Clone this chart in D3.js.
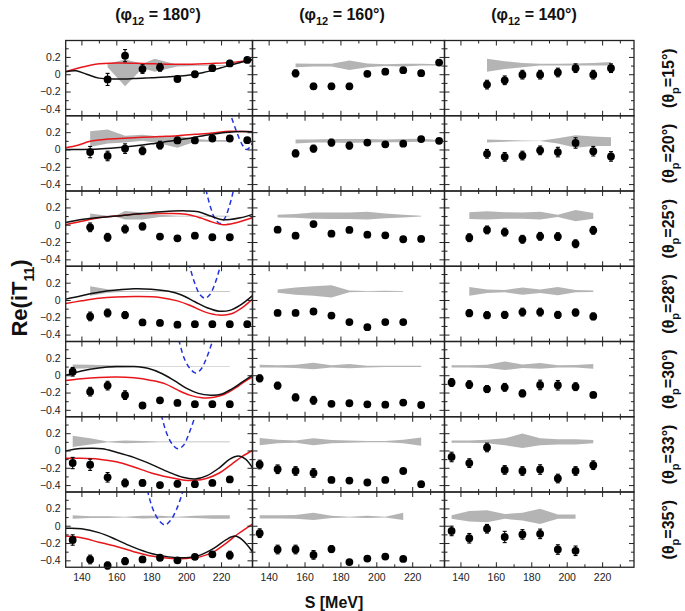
<!DOCTYPE html>
<html><head><meta charset="utf-8">
<script src="https://cdn.jsdelivr.net/npm/d3@7"></script>
<style>body{margin:0;background:#fff} svg{display:block}</style>
</head><body><svg id="c" width="685" height="611"></svg>
<script>
// ---------- labels ----------
const phiLabels = ["180", "160", "140"];
const thetaLabels = ["15", "20", "25", "28", "30", "33", "35"];
const xTicks = [140, 160, 180, 200, 220];
const xMinor = [150, 170, 190, 210, 230];
const yTicks = [-0.4, -0.2, 0, 0.2];
const yMinor = [-0.3, -0.1, 0.1, 0.3];

// ---------- phi12 = 180 (column 1) ----------
const E180 = [
 [155,165,175,185,195,205,215,225,235],
 [145,155,165,175,185,195,205,215,225,235],
 [145,155,165,175,185,195,205,215,225],
 [145,155,165,175,185,195,205,215,225,235],
 [135,145,155,165,175,185,195,205,215,225],
 [135,145,155,165,175,185,195,205,215,225],
 [135,145,155,165,175,185,195,205,215,225]];
const V180 = [
 [-0.06,0.215,0.06,0.08,-0.055,0.0,0.07,0.125,0.165],
 [-0.03,-0.075,0.01,-0.015,0.05,0.105,0.105,0.127,0.127,0.108],
 [-0.03,-0.145,-0.05,-0.02,-0.137,-0.157,-0.126,-0.145,-0.145],
 [-0.19,-0.15,-0.175,-0.26,-0.265,-0.285,-0.28,-0.28,-0.28,-0.28],
 [0.04,-0.19,-0.12,-0.23,-0.35,-0.29,-0.32,-0.335,-0.335,-0.335],
 [-0.145,-0.165,-0.31,-0.375,-0.375,-0.40,-0.385,-0.39,-0.375,-0.335],
 [-0.165,-0.39,-0.46,-0.41,-0.39,-0.37,-0.40,-0.36,-0.33,-0.34]];
const ERR180 = [
 [0.07,0.07,0.05,0.045,0.03,0.025,0.025,0.035,0.025],
 [0.065,0.055,0.055,0.045,0.045,0.035,0.025,0.025,0.025,0.025],
 [0.05,0.045,0.045,0.04,0.025,0.025,0.025,0.025,0.025],
 [0.05,0.045,0.04,0.025,0.025,0.025,0.025,0.025,0.025,0.025],
 [0.05,0.05,0.05,0.05,0.025,0.025,0.025,0.025,0.025,0.025],
 [0.065,0.065,0.055,0.045,0.035,0.03,0.035,0.025,0.025,0.025],
 [0.06,0.05,0.04,0.04,0.025,0.025,0.025,0.025,0.025,0.045]];
const BE180 = [
 [155,165,175,182,195,205,215,225],
 [145,155,165,175,185,195,205,215,225],
 [145,155,160,165,175,185,195,205,215,225],
 [145,155,165,175,185,195,205,215,225],
 [135,145,155,165,175,185,195,205,215,225],
 [135,145,155,165,175,185,195,205,215,225],
 [135,145,155,165,175,185,195,205,215,225]];
const BLO180 = [
 [0.08,-0.14,0.07,0.03,0.09,0.095,0.095,0.095],
 [0.03,0.07,0.08,0.1,0.07,0.02,0.09,0.09,0.09],
 [0.06,0.095,0.09,0.06,0.06,0.09,0.095,0.095,0.095,0.095],
 [0.05,0.085,0.095,0.095,0.095,0.095,0.095,0.095,0.095],
 [0.075,0.08,0.085,0.09,0.095,0.097,0.097,0.097,0.097,0.097],
 [0.04,0.07,0.095,0.085,0.09,0.095,0.095,0.095,0.095,0.095],
 [0.08,0.09,0.09,0.095,0.085,0.09,0.095,0.09,0.08,0.08]];
const BHI180 = [
 [0.12,0.17,0.12,0.18,0.11,0.105,0.105,0.105],
 [0.21,0.23,0.16,0.17,0.15,0.16,0.12,0.11,0.11],
 [0.13,0.105,0.11,0.16,0.14,0.115,0.105,0.105,0.105,0.105],
 [0.16,0.125,0.105,0.105,0.105,0.105,0.105,0.105,0.105],
 [0.125,0.12,0.115,0.11,0.105,0.103,0.103,0.103,0.103,0.103],
 [0.17,0.14,0.105,0.115,0.11,0.105,0.105,0.105,0.105,0.105],
 [0.12,0.11,0.11,0.105,0.115,0.115,0.105,0.115,0.12,0.12]];
const BLACK180 = [
 [[131,0.03],[137,0.04],[143,0.0],[150,-0.045],[160,-0.055],[170,-0.05],[180,-0.04],[190,-0.03],[200,-0.015],[210,0.02],[220,0.075],[230,0.13],[238,0.17]],
 [[131,0.0],[140,0.0],[150,0.005],[160,0.02],[170,0.04],[180,0.065],[190,0.095],[200,0.125],[210,0.16],[220,0.19],[228,0.205],[238,0.205]],
 [[131,0.025],[140,0.06],[150,0.085],[160,0.1],[170,0.12],[180,0.14],[190,0.155],[200,0.16],[207,0.15],[214,0.1],[220,0.06],[225,0.06],[231,0.08],[238,0.12]],
 [[131,0.01],[140,0.05],[150,0.09],[160,0.115],[170,0.13],[180,0.125],[190,0.1],[197,0.06],[205,-0.02],[212,-0.09],[219,-0.13],[225,-0.12],[231,-0.06],[238,0.05]],
 [[131,0.0],[140,0.05],[150,0.085],[160,0.1],[170,0.1],[178,0.08],[186,0.02],[193,-0.06],[200,-0.15],[207,-0.21],[214,-0.23],[220,-0.22],[226,-0.16],[232,-0.08],[238,0.0]],
 [[131,-0.005],[138,0.02],[145,0.025],[152,0.02],[160,-0.02],[170,-0.08],[180,-0.16],[190,-0.25],[198,-0.31],[205,-0.33],[212,-0.29],[219,-0.2],[225,-0.1],[230,-0.065],[234,-0.1],[238,-0.2]],
 [[131,-0.03],[140,-0.035],[150,-0.08],[160,-0.16],[170,-0.25],[180,-0.32],[190,-0.36],[200,-0.37],[208,-0.34],[216,-0.26],[223,-0.16],[228,-0.12],[232,-0.16],[238,-0.3]]];
const RED180 = [
 [[131,0.03],[140,0.08],[148,0.115],[160,0.13],[175,0.125],[190,0.115],[200,0.115],[215,0.125],[228,0.14],[238,0.165]],
 [[131,0.02],[138,0.05],[145,0.095],[155,0.12],[165,0.13],[175,0.14],[185,0.15],[195,0.16],[205,0.175],[215,0.19],[225,0.21],[238,0.205]],
 [[131,0.0],[140,0.04],[150,0.08],[160,0.1],[170,0.12],[180,0.13],[190,0.13],[200,0.12],[208,0.08],[215,0.03],[221,0.0],[228,0.02],[238,0.08]],
 [[131,-0.04],[140,-0.01],[150,0.02],[160,0.035],[172,0.04],[185,0.03],[195,-0.01],[203,-0.07],[211,-0.14],[219,-0.175],[226,-0.16],[232,-0.09],[238,0.01]],
 [[131,-0.06],[140,-0.04],[150,-0.025],[160,-0.02],[170,-0.03],[180,-0.06],[188,-0.1],[195,-0.17],[202,-0.23],[209,-0.26],[216,-0.255],[222,-0.22],[228,-0.15],[233,-0.08],[238,-0.02]],
 [[131,-0.09],[140,-0.09],[150,-0.1],[160,-0.13],[170,-0.19],[180,-0.26],[190,-0.31],[198,-0.34],[205,-0.345],[212,-0.32],[219,-0.26],[226,-0.16],[232,-0.07],[238,0.0]],
 [[131,-0.12],[140,-0.14],[150,-0.19],[160,-0.24],[170,-0.3],[180,-0.35],[190,-0.375],[200,-0.38],[208,-0.36],[216,-0.3],[223,-0.2],[230,-0.09],[238,0.02]]];
const BLUE180 = [
 [],
 [[223,0.55],[226,0.37],[229,0.2],[232,0.06],[234.5,0.0],[237,0.04],[240,0.2]],
 [[209,0.6],[211.5,0.39],[214,0.2],[216.5,0.07],[219.3,0.015],[222,0.07],[224.5,0.2],[227,0.39],[229,0.6]],
 [[199,0.62],[202,0.39],[205,0.19],[208,0.06],[210.7,0.02],[213.5,0.06],[216.5,0.19],[219.5,0.39],[222,0.62]],
 [[193,0.6],[196,0.39],[199,0.19],[202.5,0.07],[205.5,0.025],[208.5,0.07],[211.5,0.19],[215,0.39],[218,0.6]],
 [[183,0.6],[186,0.39],[189,0.19],[192.5,0.06],[195.4,0.02],[198.5,0.06],[201.5,0.19],[205,0.39],[208,0.6]],
 [[175,0.6],[178,0.39],[181,0.19],[184.5,0.06],[187.8,0.01],[191,0.06],[194.5,0.19],[198,0.39],[201,0.6]]];

// ---------- phi12 = 160 (column 2) ----------
const E160 = [
 [155,165,175,185,195,205,215,225,235],
 [155,165,175,185,195,205,215,225,235],
 [145,155,165,175,185,195,205,215,225],
 [145,155,165,175,185,195,205,215],
 [135,145,155,165,175,185,195,205,215,225],
 [135,145,155,165,175,185,195,205,215,225],
 [135,145,155,165,175,185,195,205,215]];
const V160 = [
 [0.01,-0.14,-0.14,-0.14,0.005,0.03,0.047,0.012,0.135],
 [-0.045,0.01,0.08,0.045,0.08,0.06,0.067,0.12,0.10],
 [-0.057,-0.126,0.008,-0.103,-0.06,-0.115,-0.122,-0.168,-0.164],
 [-0.15,-0.15,-0.133,-0.18,-0.255,-0.314,-0.255,-0.255],
 [-0.036,-0.12,-0.256,-0.29,-0.33,-0.324,-0.336,-0.34,-0.316,-0.344],
 [-0.162,-0.217,-0.237,-0.26,-0.34,-0.348,-0.37,-0.34,-0.237,-0.39],
 [-0.086,-0.275,-0.275,-0.337,-0.27,-0.42,-0.38,-0.357,-0.384]];
const ERR160 = [
 [0.04,0.035,0.035,0.035,0.025,0.025,0.025,0.025,0.025],
 [0.04,0.04,0.04,0.04,0.025,0.025,0.025,0.025,0.025],
 [0.03,0.03,0.03,0.03,0.025,0.025,0.025,0.025,0.025],
 [0.025,0.025,0.03,0.025,0.025,0.025,0.025,0.025],
 [0.04,0.04,0.04,0.045,0.025,0.025,0.025,0.025,0.025,0.025],
 [0.05,0.05,0.05,0.05,0.025,0.025,0.025,0.025,0.025,0.025],
 [0.05,0.05,0.05,0.05,0.04,0.025,0.025,0.025,0.025]];
const BE160 = [
 [155,165,175,185,195,205,215,225,235],
 [155,165,175,185,195,205,215,225,235],
 [145,155,165,175,185,195,205,215,225],
 [145,155,165,175,185,195,205,215],
 [135,145,155,165,175,185,195,205,215,225],
 [135,145,155,165,175,185,195,205,215,225],
 [135,145,155,165,175,185,195,205,215]];
const BLO160 = [
 [0.08,0.09,0.09,0.05,0.08,0.095,0.09,0.1,0.1],
 [0.07,0.08,0.08,0.075,0.08,0.085,0.085,0.09,0.09],
 [0.085,0.08,0.07,0.065,0.065,0.06,0.075,0.085,0.095],
 [0.085,0.06,0.05,0.03,0.09,0.095,0.093,0.095],
 [0.09,0.09,0.085,0.07,0.09,0.08,0.09,0.095,0.095,0.095],
 [0.06,0.085,0.09,0.06,0.085,0.09,0.095,0.095,0.085,0.055],
 [0.085,0.085,0.08,0.065,0.09,0.095,0.09,0.095,0.065]];
const BHI160 = [
 [0.125,0.12,0.12,0.16,0.125,0.115,0.12,0.12,0.115],
 [0.115,0.115,0.12,0.12,0.12,0.115,0.12,0.125,0.11],
 [0.115,0.125,0.14,0.14,0.14,0.15,0.13,0.115,0.105],
 [0.12,0.145,0.16,0.17,0.11,0.105,0.108,0.105],
 [0.12,0.115,0.12,0.145,0.115,0.13,0.11,0.11,0.11,0.11],
 [0.145,0.125,0.115,0.14,0.12,0.115,0.11,0.11,0.125,0.15],
 [0.12,0.12,0.125,0.15,0.115,0.105,0.115,0.105,0.15]];

// ---------- phi12 = 140 (column 3) ----------
const E140 = [
 [155,165,175,185,195,205,215,225],
 [155,165,175,185,195,205,215,225],
 [145,155,165,175,185,195,205,215],
 [145,155,165,175,185,195,205,215],
 [135,145,155,165,175,185,195,205,215],
 [135,145,155,165,175,185,195,205,215],
 [135,145,155,165,175,185,195,205]];
const V140 = [
 [-0.12,-0.07,-0.005,-0.005,0.02,0.07,-0.005,0.07],
 [-0.05,-0.085,-0.07,-0.01,-0.03,0.075,-0.02,-0.08],
 [-0.15,-0.06,-0.085,-0.168,-0.134,-0.137,-0.22,-0.065],
 [-0.153,-0.176,-0.172,-0.14,-0.14,-0.172,-0.145,-0.19],
 [-0.084,-0.108,-0.16,-0.14,-0.21,-0.112,-0.116,-0.132,-0.228],
 [-0.075,-0.146,0.035,-0.225,-0.237,-0.22,-0.324,-0.237,-0.17],
 [-0.06,-0.145,-0.035,-0.13,-0.1,-0.094,-0.275,-0.29]];
const ERR140 = [
 [0.05,0.05,0.05,0.05,0.05,0.05,0.05,0.05],
 [0.05,0.05,0.05,0.05,0.055,0.06,0.055,0.055],
 [0.045,0.045,0.045,0.045,0.045,0.045,0.045,0.045],
 [0.04,0.04,0.04,0.045,0.045,0.04,0.04,0.04],
 [0.045,0.045,0.04,0.045,0.04,0.055,0.055,0.045,0.03],
 [0.055,0.05,0.05,0.05,0.05,0.055,0.05,0.05,0.05],
 [0.055,0.055,0.05,0.065,0.055,0.055,0.055,0.055]];
const BE140 = [
 [155,165,175,185,195,205,215,225],
 [155,165,175,185,195,205,215,225],
 [145,155,165,175,185,195,205,215],
 [145,155,165,175,185,195,205,215],
 [135,145,155,165,175,185,195,205,215],
 [135,145,155,165,175,185,195,205,215],
 [135,145,155,165,175,185,195,205]];
const BLO140 = [
 [0.03,0.06,0.08,0.1,0.1,0.1,0.1,0.1],
 [0.08,0.09,0.095,0.098,0.07,0.02,0.04,0.04],
 [0.065,0.06,0.07,0.07,0.06,0.09,0.04,0.07],
 [0.05,0.08,0.09,0.06,0.08,0.055,0.09,0.093],
 [0.09,0.09,0.085,0.06,0.085,0.075,0.09,0.09,0.075],
 [0.09,0.09,0.085,0.06,0.03,0.06,0.07,0.07,0.085],
 [0.08,0.05,0.04,0.08,0.06,0.02,0.08,0.08]];
const BHI140 = [
 [0.18,0.15,0.13,0.12,0.12,0.125,0.13,0.14],
 [0.115,0.11,0.105,0.102,0.13,0.165,0.15,0.14],
 [0.145,0.155,0.145,0.14,0.15,0.115,0.17,0.135],
 [0.15,0.12,0.115,0.145,0.12,0.15,0.115,0.11],
 [0.115,0.115,0.12,0.16,0.125,0.14,0.115,0.118,0.13],
 [0.115,0.115,0.125,0.14,0.195,0.14,0.13,0.13,0.12],
 [0.12,0.17,0.18,0.135,0.15,0.195,0.13,0.13]];

// ---------- drawing ----------
const FONT = "'Liberation Sans', Arial, Helvetica, sans-serif";
const svg = d3.select("#c").style("font-family", FONT);
const colBounds = [65.7, 252.5, 444.5, 634];
const gridTop = 40.5, rowH = 75.25;
const xDom = [131, 238], yDom = [-0.48, 0.39];
const BAND = "#b4b4b4", RED = "#e8161b", BLUE = "#2233e0";

const cols = [
  {E:E180, V:V180, err:ERR180, BE:BE180, BLO:BLO180, BHI:BHI180, black:BLACK180, red:RED180, blue:BLUE180},
  {E:E160, V:V160, err:ERR160, BE:BE160, BLO:BLO160, BHI:BHI160},
  {E:E140, V:V140, err:ERR140, BE:BE140, BLO:BLO140, BHI:BHI140}
];
const defs = svg.append("defs");

cols.forEach((c, ci) => {
  const x0 = colBounds[ci], x1 = colBounds[ci + 1];
  const x = d3.scaleLinear().domain(xDom).range([x0, x1]);
  for (let r = 0; r < 7; r++) {
    const y0 = gridTop + r * rowH, y1 = y0 + rowH;
    const y = d3.scaleLinear().domain(yDom).range([y1, y0]);
    const id = `clip${ci}_${r}`;
    defs.append("clipPath").attr("id", id).append("rect")
      .attr("x", x0).attr("y", y0).attr("width", x1 - x0).attr("height", rowH);
    const g = svg.append("g");
    const gc = g.append("g").attr("clip-path", `url(#${id})`);

    // band
    const band = c.BE[r].map((e, i) => ({e, lo: c.BLO[r][i], hi: c.BHI[r][i]}));
    gc.append("path").datum(band)
      .attr("d", d3.area().x(d => x(d.e)).y0(d => y(d.lo)).y1(d => y(d.hi)))
      .attr("fill", BAND);

    // theory curves
    const line = d3.line().x(d => x(d[0])).y(d => y(d[1])).curve(d3.curveCatmullRom);
    if (c.blue && c.blue[r].length) {
      gc.append("path").datum(c.blue[r]).attr("d", line).attr("fill", "none")
        .attr("stroke", BLUE).attr("stroke-width", 1.5).attr("stroke-dasharray", "5,3.5");
    }
    if (c.red) {
      gc.append("path").datum(c.red[r]).attr("d", line).attr("fill", "none")
        .attr("stroke", RED).attr("stroke-width", 1.5);
    }
    if (c.black) {
      gc.append("path").datum(c.black[r]).attr("d", line).attr("fill", "none")
        .attr("stroke", "#111").attr("stroke-width", 1.5);
    }

    // data with error bars
    const pts = c.E[r].map((e, i) => ({e, v: c.V[r][i], s: c.err[r][i]}));
    const pg = g.selectAll("g.pt").data(pts).enter().append("g").attr("class", "pt");
    pg.append("line").attr("x1", d => x(d.e)).attr("x2", d => x(d.e))
      .attr("y1", d => y(d.v - d.s)).attr("y2", d => y(d.v + d.s))
      .attr("stroke", "#000").attr("stroke-width", 1.1);
    pg.append("line").attr("x1", d => x(d.e) - 2).attr("x2", d => x(d.e) + 2)
      .attr("y1", d => y(d.v + d.s)).attr("y2", d => y(d.v + d.s))
      .attr("stroke", "#000").attr("stroke-width", 1.1);
    pg.append("line").attr("x1", d => x(d.e) - 2).attr("x2", d => x(d.e) + 2)
      .attr("y1", d => y(d.v - d.s)).attr("y2", d => y(d.v - d.s))
      .attr("stroke", "#000").attr("stroke-width", 1.1);
    pg.append("circle").attr("cx", d => x(d.e)).attr("cy", d => y(d.v)).attr("r", 3.9).attr("fill", "#000");

    // axes (inward ticks)
    const fmtY = d => d === 0 ? "0" : d3.format(".1f")(d);
    const clean = sel => { sel.select(".domain").remove(); sel.selectAll("line").attr("stroke", "#222"); sel.selectAll("text").style("font-family", FONT); };
    g.append("g").attr("transform", `translate(0,${y1})`)
      .call(d3.axisBottom(x).tickValues(xTicks).tickSize(-5).tickPadding(6).tickFormat(r === 6 ? d3.format("d") : ""))
      .call(clean).call(s => s.selectAll("text").attr("font-size", 10.5).attr("fill", "#222"));
    g.append("g").attr("transform", `translate(0,${y1})`)
      .call(d3.axisBottom(x).tickValues(xMinor).tickSize(-3).tickFormat("")).call(clean);
    g.append("g").attr("transform", `translate(0,${y0})`)
      .call(d3.axisTop(x).tickValues(xTicks).tickSize(-5).tickFormat("")).call(clean);
    g.append("g").attr("transform", `translate(0,${y0})`)
      .call(d3.axisTop(x).tickValues(xMinor).tickSize(-3).tickFormat("")).call(clean);
    g.append("g").attr("transform", `translate(${x0},0)`)
      .call(d3.axisLeft(y).tickValues(yTicks).tickSize(-5).tickPadding(5).tickFormat(ci === 0 ? fmtY : ""))
      .call(clean).call(s => s.selectAll("text").attr("font-size", 10.5).attr("fill", "#222"));
    g.append("g").attr("transform", `translate(${x0},0)`)
      .call(d3.axisLeft(y).tickValues(yMinor).tickSize(-3).tickFormat("")).call(clean);
    g.append("g").attr("transform", `translate(${x1},0)`)
      .call(d3.axisRight(y).tickValues(yTicks).tickSize(-5).tickFormat("")).call(clean);
    g.append("g").attr("transform", `translate(${x1},0)`)
      .call(d3.axisRight(y).tickValues(yMinor).tickSize(-3).tickFormat("")).call(clean);

    g.append("rect").attr("x", x0).attr("y", y0).attr("width", x1 - x0).attr("height", rowH)
      .attr("fill", "none").attr("stroke", "#222").attr("stroke-width", 1.3);
  }
});

// column headers
const headX = [158, 342, 534];
phiLabels.forEach((p, i) => {
  const t = svg.append("text").attr("x", headX[i]).attr("y", 20).attr("text-anchor", "middle")
    .attr("font-size", 16).attr("font-weight", "bold").attr("fill", "#111");
  t.append("tspan").text("(\u03C6");
  t.append("tspan").attr("font-size", 11).attr("dy", 5).text("12");
  t.append("tspan").attr("dy", -5).text(` = ${p}\u00B0)`);
});

// row labels
thetaLabels.forEach((th, r) => {
  const cy = gridTop + r * rowH + rowH / 2;
  const t = svg.append("text").attr("transform", `translate(674,${cy}) rotate(-90)`)
    .attr("text-anchor", "middle").attr("font-size", 16).attr("font-weight", "bold").attr("fill", "#111");
  t.append("tspan").text("(\u03B8");
  t.append("tspan").attr("font-size", 11).attr("dy", 5).text("p");
  t.append("tspan").attr("dy", -5).text(`=${th}\u00B0)`);
});

// axis titles
const yt = svg.append("text").attr("transform", "translate(27,298) rotate(-90)")
  .attr("text-anchor", "middle").attr("font-size", 22).attr("font-weight", "bold").attr("fill", "#111");
yt.append("tspan").text("Re(iT");
yt.append("tspan").attr("font-size", 14).attr("dy", 7).text("11");
yt.append("tspan").attr("dy", -7).text(")");

svg.append("text").attr("x", 334).attr("y", 608).attr("text-anchor", "middle")
  .attr("font-size", 16).attr("font-weight", "bold").attr("fill", "#111").text("S [MeV]");
</script>
</body></html>
